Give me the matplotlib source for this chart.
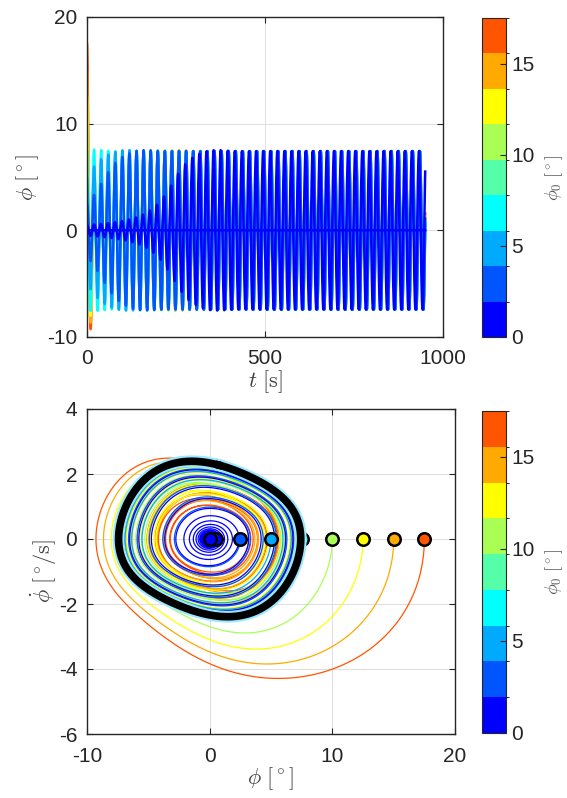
import numpy as np
import matplotlib
matplotlib.use("Agg")
import matplotlib.pyplot as plt
from matplotlib.colors import ListedColormap, BoundaryNorm
from matplotlib.cm import ScalarMappable

plt.rcParams['font.family'] = ['Liberation Sans', 'DejaVu Sans']
plt.rcParams['mathtext.fontset'] = 'cm'
plt.rcParams['axes.unicode_minus'] = False

# initial roll angles [deg], drawn from largest to smallest
phi0 = [17.5, 15.0, 12.5, 10.0, 7.5, 5.0, 2.5, 0.5, 0.0]
t_end = 950.0
dt = 0.05

# model parameters
omega = 0.32       # rad/s
phi_lc = 7.7       # limit-cycle amplitude [deg]
g_lin = 1.0 / 100  # small-amplitude pumping gain
sig_hi = 0.056     # lagged damping for large amplitudes
tau = 35.0
kappa = 0.07       # waveform shaping

# jet(9)
jet9 = [(0, 0, 1), (0, 1/3, 1), (0, 2/3, 1), (0, 1, 1), (1/3, 1, 2/3),
        (2/3, 1, 1/3), (1, 1, 0), (1, 2/3, 0), (1, 1/3, 0)]
cmap = ListedColormap(jet9)
cmin, cmax = 0.0, 17.5
norm = BoundaryNorm(np.linspace(cmin, cmax, 10), 9)


def rhs(y):
    phi, p, q = y
    a2 = phi**2 + (p / omega)**2
    w = np.sqrt(a2) / phi_lc
    below = np.clip(1 - w, 0, None)
    above = np.clip(w - 1, 0, None)
    s = -g_lin * phi_lc * w * below**1.5 + q
    k_eff = kappa * w**2 * np.exp(1 - w**2)
    shape = k_eff * p * (p**2 / omega**2 - 3 * phi**2) / np.maximum(a2, 1e-12)
    dp = -omega**2 * phi - 2 * s * p - shape
    dq = (sig_hi * np.sqrt(above) - q) / tau
    return np.array([p, dp, dq])


x0 = np.array(phi0)
q0 = sig_hi * np.sqrt(np.clip(x0 / phi_lc - 1, 0, None))
y = np.array([x0, np.zeros_like(x0), q0])
n = int(round(t_end / dt)) + 1
t = np.arange(n) * dt
hist = np.empty((n, 3, len(phi0)))
hist[0] = y
for i in range(1, n):
    k1 = rhs(y)
    k2 = rhs(y + 0.5 * dt * k1)
    k3 = rhs(y + 0.5 * dt * k2)
    k4 = rhs(y + dt * k3)
    y = y + dt / 6 * (k1 + 2 * k2 + 2 * k3 + k4)
    hist[i] = y

phi = hist[:, 0, :]
phidot = hist[:, 1, :]

fig = plt.figure(figsize=(5.67, 7.98), dpi=100)
ax1 = fig.add_axes([87/567, 1 - 337/798, 356/567, 320/798])
cax1 = fig.add_axes([482/567, 1 - 337/798, 24/567, 319/798])
ax2 = fig.add_axes([87/567, 1 - 734/798, 368/567, 325/798])
cax2 = fig.add_axes([482/567, 1 - 733/798, 24/567, 322/798])


def col(v):
    return cmap(norm(min(v, cmax - 1e-6)))


for j, v in enumerate(phi0):
    ax1.plot(t, phi[:, j], color=col(v), lw=1.8)
    ax2.plot(phi[:, j], phidot[:, j], color=col(v), lw=0.9)

for v in phi0:
    ax2.plot(v, 0, 'o', mfc=col(v), mec='k', ms=9, mew=1.8, zorder=4)

# converged limit cycle
per = int(round(2 * np.pi / omega / dt)) + 5
jlc = phi0.index(7.5)
ax2.plot(phi[-per:, jlc], phidot[-per:, jlc], color='#9be8ff', lw=8.5,
         zorder=4.5)
ax2.plot(phi[-per:, jlc], phidot[-per:, jlc], color='k', lw=5.5, zorder=5)

ax1.set_xlim(0, 1000)
ax1.set_ylim(-10, 20)
ax1.set_xticks([0, 500, 1000])
ax1.set_yticks([-10, 0, 10, 20])
ax2.set_xlim(-10, 20)
ax2.set_ylim(-6, 4)
ax2.set_xticks([-10, 0, 10, 20])
ax2.set_yticks([-6, -4, -2, 0, 2, 4])

lab = dict(fontsize=16, color='0.25')
ax1.set_xlabel(r'$t\ [\mathrm{s}]$', labelpad=0, **lab)
ax1.set_ylabel(r'$\phi\ [^\circ]$', labelpad=4, **lab)
ax2.set_xlabel(r'$\phi\ [^\circ]$', labelpad=0, **lab)
ax2.set_ylabel(r'$\dot{\phi}\ [^\circ\!/\mathrm{s}]$', labelpad=0, **lab)

for ax in (ax1, ax2):
    ax.grid(True, color='#dedede', lw=0.7)
    ax.set_axisbelow(True)
    ax.tick_params(direction='in', length=4, width=0.8, top=True, right=True,
                   labelsize=15, colors='0.15')
    ax.tick_params(axis='x', pad=9)
    ax.tick_params(axis='y', pad=7)
    for sp in ax.spines.values():
        sp.set_linewidth(1.0)
        sp.set_color('0.15')

for cax in (cax1, cax2):
    cb = fig.colorbar(ScalarMappable(norm=norm, cmap=cmap), cax=cax,
                      ticks=[0, 5, 10, 15])
    cb.ax.tick_params(direction='in', length=4, width=0.8, labelsize=15,
                      colors='0.15', pad=4)
    cb.outline.set_linewidth(0.8)
    cb.outline.set_edgecolor('0.15')
    cb.set_label(r'$\phi_0\ [^\circ]$', fontsize=13, color='0.35', labelpad=6)

fig.savefig('out.png', dpi=100)
